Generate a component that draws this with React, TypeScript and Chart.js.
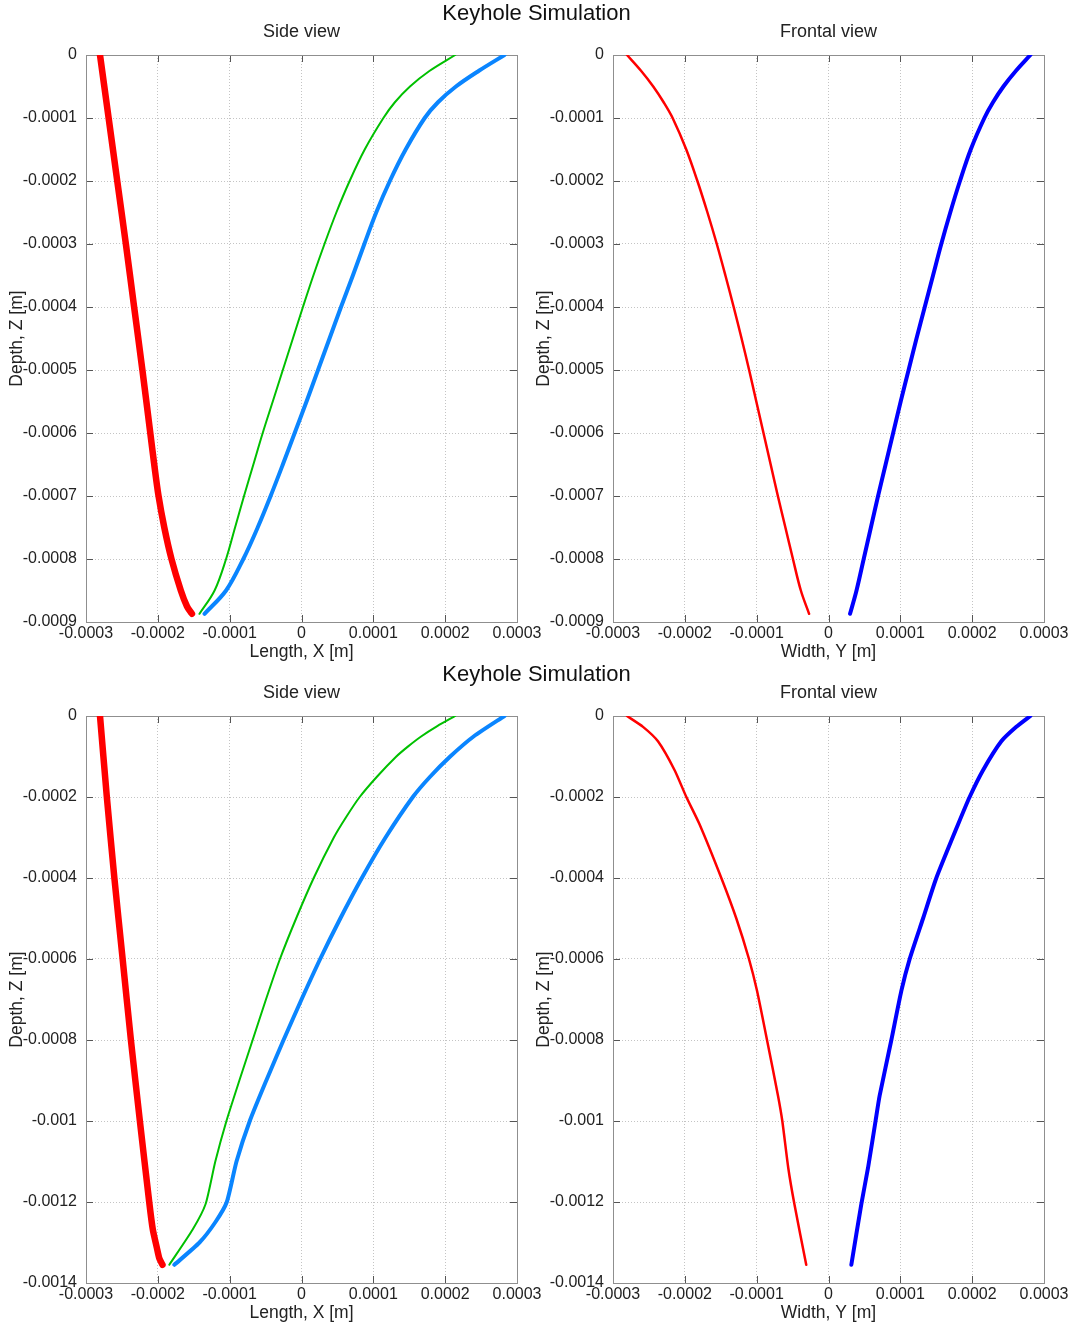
import React, { useEffect, useRef } from 'react';
import { Chart, registerables } from 'chart.js';

Chart.register(...registerables);

const FONT = "'Liberation Sans', Arial, Helvetica, sans-serif";

// ---------- ticks ----------
const X_TICKS = [-0.0003, -0.0002, -0.0001, 0, 0.0001, 0.0002, 0.0003];
const X_TICK_LABELS = ['-0.0003', '-0.0002', '-0.0001', '0', '0.0001', '0.0002', '0.0003'];
const Y_TICKS_TOP = [-0.0009, -0.0008, -0.0007, -0.0006, -0.0005, -0.0004, -0.0003, -0.0002, -0.0001, 0];
const Y_TICK_LABELS_TOP = ['-0.0009', '-0.0008', '-0.0007', '-0.0006', '-0.0005', '-0.0004', '-0.0003', '-0.0002', '-0.0001', '0'];
const Y_TICKS_BOTTOM = [-0.0014, -0.0012, -0.001, -0.0008, -0.0006, -0.0004, -0.0002, 0];
const Y_TICK_LABELS_BOTTOM = ['-0.0014', '-0.0012', '-0.001', '-0.0008', '-0.0006', '-0.0004', '-0.0002', '0'];

// ---------- run 1 : side view ----------
const S1_RED_Z = [0, -100e-6, -200e-6, -300e-6, -400e-6, -500e-6, -600e-6, -650e-6, -700e-6, -750e-6, -800e-6, -850e-6, -875e-6, -887e-6];
const S1_RED_X = [-280.5e-6, -268.5e-6, -256.5e-6, -244.5e-6, -233e-6, -221.5e-6, -210.5e-6, -205e-6, -199e-6, -191e-6, -181e-6, -168e-6, -159.5e-6, -152.5e-6];

const S1_GREEN_Z = [0, -25e-6, -50e-6, -75e-6, -100e-6, -150e-6, -200e-6, -250e-6, -300e-6, -350e-6, -400e-6, -450e-6, -500e-6, -550e-6, -600e-6, -650e-6, -700e-6, -750e-6, -800e-6, -850e-6, -887e-6];
const S1_GREEN_X = [214e-6, 178.5e-6, 151e-6, 130e-6, 114e-6, 88e-6, 67e-6, 48.5e-6, 32e-6, 16.5e-6, 2e-6, -12e-6, -26e-6, -40e-6, -54e-6, -67e-6, -80e-6, -92.5e-6, -105e-6, -121e-6, -142e-6];

const S1_BLUE_Z = [0, -25e-6, -50e-6, -75e-6, -100e-6, -150e-6, -200e-6, -250e-6, -300e-6, -350e-6, -400e-6, -450e-6, -500e-6, -550e-6, -600e-6, -650e-6, -700e-6, -750e-6, -800e-6, -850e-6, -887e-6];
const S1_BLUE_X = [282.5e-6, 247e-6, 215e-6, 190e-6, 171.5e-6, 145e-6, 123e-6, 104e-6, 87.5e-6, 71.5e-6, 55e-6, 39e-6, 23e-6, 7e-6, -9.5e-6, -26e-6, -43e-6, -61e-6, -81e-6, -105e-6, -135e-6];

// ---------- run 1 : frontal view ----------
const F1_Z = [0, -25e-6, -50e-6, -75e-6, -100e-6, -150e-6, -200e-6, -250e-6, -300e-6, -350e-6, -400e-6, -450e-6, -500e-6, -550e-6, -600e-6, -650e-6, -700e-6, -750e-6, -800e-6, -850e-6, -887e-6];
const F1_RED_Y = [-280.5e-6, -261e-6, -244e-6, -229.5e-6, -217e-6, -198e-6, -182.5e-6, -168.5e-6, -155.5e-6, -143.5e-6, -132e-6, -121e-6, -110.5e-6, -100.5e-6, -90.5e-6, -80.5e-6, -70.5e-6, -60e-6, -49.5e-6, -38.5e-6, -27e-6];
const F1_BLUE_Y = [281e-6, 261e-6, 243.5e-6, 229e-6, 217e-6, 198e-6, 183e-6, 169.5e-6, 157e-6, 145.5e-6, 134e-6, 122.5e-6, 111.5e-6, 100.5e-6, 90e-6, 79.5e-6, 69e-6, 59e-6, 49e-6, 39e-6, 30e-6];

// ---------- run 2 : side view ----------
const S2_RED_Z = [0, -200e-6, -400e-6, -600e-6, -800e-6, -1000e-6, -1200e-6, -1268e-6, -1312e-6, -1339e-6, -1355e-6];
const S2_RED_X = [-280.5e-6, -271e-6, -260.5e-6, -249e-6, -237.5e-6, -225e-6, -212e-6, -207e-6, -201.5e-6, -198e-6, -193.5e-6];

const S2_GREEN_Z = [0, -25e-6, -50e-6, -75e-6, -100e-6, -150e-6, -200e-6, -250e-6, -300e-6, -400e-6, -500e-6, -600e-6, -700e-6, -800e-6, -900e-6, -1000e-6, -1100e-6, -1205e-6, -1268e-6, -1355e-6];
const S2_GREEN_X = [214e-6, 189e-6, 167e-6, 148.5e-6, 132e-6, 105e-6, 81e-6, 62e-6, 45e-6, 17e-6, -7.5e-6, -30e-6, -49.5e-6, -68e-6, -86.5e-6, -104.5e-6, -120e-6, -133.5e-6, -151.5e-6, -184e-6];

const S2_BLUE_Z = [0, -50e-6, -100e-6, -150e-6, -200e-6, -300e-6, -400e-6, -500e-6, -600e-6, -700e-6, -800e-6, -900e-6, -1000e-6, -1100e-6, -1200e-6, -1250e-6, -1300e-6, -1355e-6];
const S2_BLUE_X = [282.5e-6, 240e-6, 207e-6, 179e-6, 155e-6, 117e-6, 84e-6, 54e-6, 26e-6, 0, -25e-6, -49e-6, -72e-6, -90.5e-6, -104e-6, -120e-6, -142e-6, -177e-6];

// ---------- run 2 : frontal view ----------
const F2_Z = [0, -26.8e-6, -62.5e-6, -133.9e-6, -200e-6, -267.9e-6, -400e-6, -500e-6, -600e-6, -678.6e-6, -800e-6, -937.5e-6, -1000e-6, -1116e-6, -1205e-6, -1355e-6];
const F2_RED_Y = [-280.5e-6, -258.2e-6, -237.4e-6, -214.2e-6, -197.9e-6, -179.4e-6, -149.2e-6, -128.3e-6, -110.7e-6, -99.5e-6, -85.6e-6, -70.3e-6, -64.3e-6, -56e-6, -47.5e-6, -31e-6];
const F2_BLUE_Y = [281e-6, 261.5e-6, 240.6e-6, 215.1e-6, 196.5e-6, 180.3e-6, 150.1e-6, 131.6e-6, 113e-6, 101.4e-6, 87.5e-6, 71.2e-6, 65.5e-6, 55e-6, 45.7e-6, 31.8e-6];

const RED = '#ff0000';
const GREEN = '#00c000';
const LIGHT_BLUE = '#0a85ff';
const BLUE = '#0000ff';

type Series = { xs: number[]; zs: number[]; color: string; width: number };

const pts = (xs: number[], zs: number[]) => xs.map((x, i) => ({ x, y: zs[i] }));

const framePlugin = {
  id: 'frame',
  beforeDatasetsDraw(chart: any) {
    const { ctx, chartArea: a, scales } = chart;
    const xs = scales.x;
    const ys = scales.y;
    ctx.save();
    ctx.lineWidth = 1;
    ctx.strokeStyle = '#555';
    ctx.beginPath();
    const L = 7;
    xs.ticks.forEach((t: any, i: number) => {
      if (i === 0 || i === xs.ticks.length - 1) return;
      const px = Math.round(xs.getPixelForValue(t.value)) + 0.5;
      ctx.moveTo(px, a.bottom);
      ctx.lineTo(px, a.bottom - L);
      ctx.moveTo(px, a.top);
      ctx.lineTo(px, a.top + L);
    });
    ys.ticks.forEach((t: any, i: number) => {
      if (i === 0 || i === ys.ticks.length - 1) return;
      const py = Math.round(ys.getPixelForValue(t.value)) + 0.5;
      ctx.moveTo(a.left, py);
      ctx.lineTo(a.left + L, py);
      ctx.moveTo(a.right, py);
      ctx.lineTo(a.right - L, py);
    });
    ctx.stroke();
    ctx.strokeStyle = '#8f8f8f';
    ctx.strokeRect(Math.round(a.left) + 0.5, Math.round(a.top) + 0.5, Math.round(a.right - a.left), Math.round(a.bottom - a.top));
    ctx.restore();
  },
};

type PanelProps = {
  left: number;
  top: number;
  width: number;
  height: number;
  yScaleWidth: number;
  padRight: number;
  yTitlePad: number;
  title: string;
  xTitle: string;
  yTicks: number[];
  yLabels: string[];
  series: Series[];
  tension: number;
};

function Panel(p: PanelProps) {
  const ref = useRef<HTMLCanvasElement | null>(null);
  useEffect(() => {
    if (!ref.current) return;
    const chart = new Chart(ref.current, {
      type: 'scatter',
      data: {
        datasets: p.series.map((s) => ({
          data: pts(s.xs, s.zs),
          showLine: true,
          borderColor: s.color,
          backgroundColor: s.color,
          borderWidth: s.width,
          pointRadius: 0,
          tension: p.tension,
          borderCapStyle: 'round',
          borderJoinStyle: 'round',
        })),
      },
      options: {
        responsive: false,
        animation: false,
        devicePixelRatio: 1,
        events: [],
        layout: { padding: { left: 0, right: p.padRight, top: 0, bottom: 0 } },
        plugins: {
          legend: { display: false },
          tooltip: { enabled: false },
          title: {
            display: true,
            text: p.title,
            fullSize: false,
            color: '#222',
            font: { family: FONT, size: 18, weight: 'normal', lineHeight: 1 },
            padding: { top: 23, bottom: 14 },
          },
        },
        scales: {
          x: {
            type: 'linear',
            min: X_TICKS[0],
            max: X_TICKS[X_TICKS.length - 1],
            afterBuildTicks: (s: any) => {
              s.ticks = X_TICKS.map((v) => ({ value: v }));
            },
            afterFit: (s: any) => {
              s.height = 46;
              s.paddingLeft = 0;
              s.paddingRight = 0;
            },
            ticks: {
              autoSkip: false,
              maxRotation: 0,
              minRotation: 0,
              padding: 2,
              color: '#222',
              font: { family: FONT, size: 16 },
              callback: (_v: any, i: number) => X_TICK_LABELS[i],
            },
            grid: { color: '#c4c4c4', lineWidth: 1, drawTicks: false },
            border: { display: false, dash: [1, 2] },
            title: {
              display: true,
              text: p.xTitle,
              color: '#222',
              font: { family: FONT, size: 17.5, lineHeight: 1 },
              padding: { top: 0, bottom: 7 },
            },
          },
          y: {
            type: 'linear',
            min: p.yTicks[0],
            max: p.yTicks[p.yTicks.length - 1],
            afterBuildTicks: (s: any) => {
              s.ticks = p.yTicks.map((v) => ({ value: v }));
            },
            afterFit: (s: any) => {
              s.width = p.yScaleWidth;
              s.paddingTop = 0;
              s.paddingBottom = 0;
            },
            ticks: {
              autoSkip: false,
              padding: 9,
              color: '#222',
              font: { family: FONT, size: 16 },
              callback: (_v: any, i: number) => p.yLabels[i],
            },
            grid: { color: '#c4c4c4', lineWidth: 1, drawTicks: false },
            border: { display: false, dash: [1, 2] },
            title: {
              display: true,
              text: 'Depth, Z [m]',
              color: '#222',
              font: { family: FONT, size: 17.5, lineHeight: 1 },
              padding: { top: p.yTitlePad, bottom: 0 },
            },
          },
        },
      } as any,
      plugins: [framePlugin],
    });
    return () => chart.destroy();
  }, []);
  return (
    <canvas
      ref={ref}
      width={p.width}
      height={p.height}
      style={{ position: 'absolute', left: p.left, top: p.top, width: p.width, height: p.height }}
    />
  );
}

const ROW_H = 661;

function SupTitle({ top }: { top: number }) {
  return (
    <div
      style={{
        position: 'absolute',
        left: 0,
        top,
        width: 1073,
        height: 26,
        lineHeight: '26px',
        textAlign: 'center',
        fontFamily: FONT,
        fontSize: 22,
        color: '#111',
        zIndex: 2,
      }}
    >
      Keyhole Simulation
    </div>
  );
}

export default function App() {
  const rows = [
    {
      yTicks: Y_TICKS_TOP,
      yLabels: Y_TICK_LABELS_TOP,
      tension: 0.35,
      side: [
        { xs: S1_RED_X, zs: S1_RED_Z, color: RED, width: 6.5 },
        { xs: S1_GREEN_X, zs: S1_GREEN_Z, color: GREEN, width: 2 },
        { xs: S1_BLUE_X, zs: S1_BLUE_Z, color: LIGHT_BLUE, width: 4 },
      ],
      front: [
        { xs: F1_RED_Y, zs: F1_Z, color: RED, width: 2.5 },
        { xs: F1_BLUE_Y, zs: F1_Z, color: BLUE, width: 4 },
      ],
    },
    {
      yTicks: Y_TICKS_BOTTOM,
      yLabels: Y_TICK_LABELS_BOTTOM,
      tension: 0.2,
      side: [
        { xs: S2_RED_X, zs: S2_RED_Z, color: RED, width: 6.5 },
        { xs: S2_GREEN_X, zs: S2_GREEN_Z, color: GREEN, width: 2 },
        { xs: S2_BLUE_X, zs: S2_BLUE_Z, color: LIGHT_BLUE, width: 4 },
      ],
      front: [
        { xs: F2_RED_Y, zs: F2_Z, color: RED, width: 2.5 },
        { xs: F2_BLUE_Y, zs: F2_Z, color: BLUE, width: 4 },
      ],
    },
  ];
  return (
    <div style={{ position: 'absolute', left: 0, top: 0, width: 1073, height: 1329, background: '#fff', overflow: 'hidden' }}>
      {rows.map((r, i) => (
        <React.Fragment key={i}>
          <Panel
            left={0}
            top={i * ROW_H}
            width={550}
            height={668}
            yScaleWidth={86}
            padRight={33}
            yTitlePad={8.25}
            title="Side view"
            xTitle="Length, X [m]"
            yTicks={r.yTicks}
            yLabels={r.yLabels}
            series={r.side}
            tension={r.tension}
          />
          <Panel
            left={530}
            top={i * ROW_H}
            width={543}
            height={668}
            yScaleWidth={83}
            padRight={29}
            yTitlePad={5.25}
            title="Frontal view"
            xTitle="Width, Y [m]"
            yTicks={r.yTicks}
            yLabels={r.yLabels}
            series={r.front}
            tension={r.tension}
          />
          <SupTitle top={i * ROW_H} />
        </React.Fragment>
      ))}
    </div>
  );
}
